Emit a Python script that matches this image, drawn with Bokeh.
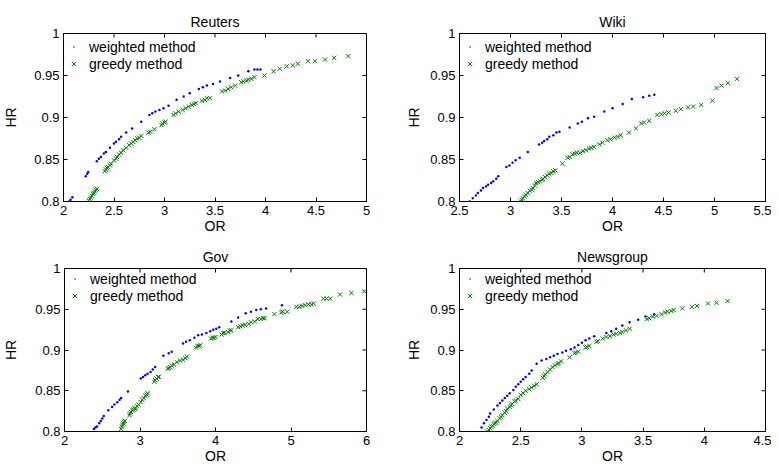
import math
from bokeh.plotting import figure
from bokeh.layouts import column, row
from bokeh.models import Range1d, FixedTicker, CustomJSTickFormatter
from bokeh.embed import file_html
from bokeh.resources import INLINE

FONT = "Liberation Sans"
BLUE = "#0000ff"
GREEN = "#008000"

# ---------------- data ----------------
hr_ticks = [0.8, 0.85, 0.9, 0.95, 1.0]

reuters_xticks = [2, 2.5, 3, 3.5, 4, 4.5, 5]
reuters_w_or = [2.055, 2.07, 2.088, 2.22, 2.235, 2.245, 2.33, 2.35, 2.37, 2.40, 2.42, 2.46, 2.50, 2.52, 2.55, 2.57,
                2.62, 2.68, 2.77, 2.85, 2.88, 2.91, 2.95, 2.99, 3.04, 3.12, 3.19, 3.25, 3.34, 3.38, 3.42, 3.48,
                3.55, 3.65, 3.73, 3.83, 3.89, 3.92, 3.95]
reuters_w_hr = [0.800, 0.802, 0.805, 0.830, 0.833, 0.835, 0.848, 0.851, 0.853, 0.857, 0.859, 0.864, 0.869, 0.871,
                0.874, 0.877, 0.882, 0.887, 0.895, 0.903, 0.905, 0.907, 0.909, 0.911, 0.914, 0.921, 0.925, 0.929,
                0.934, 0.936, 0.938, 0.940, 0.943, 0.947, 0.950, 0.955, 0.957, 0.957, 0.957]
reuters_g_or = [2.25, 2.26, 2.27, 2.28, 2.29, 2.30, 2.31, 2.32, 2.33,
                2.41, 2.42, 2.43, 2.44, 2.46, 2.47, 2.50, 2.52, 2.53, 2.55, 2.57, 2.59, 2.62, 2.65, 2.67, 2.69,
                2.71, 2.73, 2.75, 2.77, 2.84, 2.86, 2.90, 2.97, 2.98, 3.00, 3.01, 3.09, 3.11, 3.14, 3.18, 3.21,
                3.24, 3.27, 3.29, 3.31, 3.37, 3.40, 3.42, 3.45, 3.57, 3.60, 3.63, 3.66, 3.70, 3.76, 3.78, 3.81,
                3.83, 3.86, 3.89, 3.99, 4.08, 4.14, 4.21, 4.27, 4.32, 4.42, 4.49, 4.59, 4.68, 4.82]
reuters_g_hr = [0.801, 0.803, 0.805, 0.807, 0.809, 0.810, 0.812, 0.814, 0.815,
                0.836, 0.838, 0.840, 0.841, 0.843, 0.845, 0.849, 0.851, 0.853, 0.856, 0.858, 0.861, 0.864, 0.867,
                0.869, 0.871, 0.873, 0.875, 0.876, 0.878, 0.882, 0.883, 0.886, 0.891, 0.893, 0.894, 0.895, 0.903,
                0.905, 0.907, 0.909, 0.911, 0.913, 0.915, 0.916, 0.917, 0.920, 0.921, 0.923, 0.923, 0.931, 0.932,
                0.934, 0.936, 0.938, 0.942, 0.943, 0.944, 0.945, 0.946, 0.948, 0.950, 0.955, 0.958, 0.961, 0.962,
                0.964, 0.967, 0.967, 0.969, 0.971, 0.973]

wiki_xticks = [2.5, 3, 3.5, 4, 4.5, 5, 5.5]
wiki_w_or = [2.60, 2.63, 2.66, 2.68, 2.71, 2.73, 2.76, 2.78, 2.81, 2.83, 2.86, 2.88, 2.96, 2.99, 3.02, 3.05, 3.09,
             3.17, 3.28, 3.31, 3.33, 3.36, 3.38, 3.42, 3.45, 3.48, 3.58, 3.66, 3.70, 3.76, 3.82, 3.92, 4.00, 4.10,
             4.19, 4.30, 4.36, 4.41]
wiki_w_hr = [0.800, 0.804, 0.807, 0.810, 0.813, 0.816, 0.818, 0.820, 0.822, 0.824, 0.827, 0.830, 0.841, 0.843,
             0.846, 0.849, 0.852, 0.859, 0.868, 0.870, 0.872, 0.874, 0.877, 0.879, 0.882, 0.883, 0.888, 0.893,
             0.895, 0.899, 0.901, 0.907, 0.911, 0.916, 0.922, 0.924, 0.926, 0.927]
wiki_g_or = [3.10, 3.11, 3.12, 3.14, 3.15, 3.17, 3.19, 3.21, 3.22, 3.24, 3.25, 3.27, 3.29, 3.31, 3.32, 3.34, 3.36,
             3.38, 3.40, 3.42, 3.44, 3.51, 3.56, 3.58, 3.61, 3.63, 3.65, 3.68, 3.71, 3.74, 3.77, 3.79, 3.82, 3.87,
             3.90, 3.95, 3.98, 4.02, 4.05, 4.08, 4.16, 4.23, 4.28, 4.31, 4.36, 4.44, 4.48, 4.51, 4.55, 4.62, 4.67,
             4.74, 4.79, 4.87, 4.98, 5.02, 5.07, 5.13, 5.22]
wiki_g_hr = [0.800, 0.802, 0.804, 0.806, 0.808, 0.810, 0.813, 0.814, 0.816, 0.819, 0.822, 0.823, 0.824, 0.826,
             0.827, 0.829, 0.831, 0.833, 0.834, 0.836, 0.837, 0.845, 0.852, 0.853, 0.856, 0.857, 0.858, 0.858,
             0.860, 0.861, 0.863, 0.864, 0.865, 0.868, 0.870, 0.873, 0.874, 0.876, 0.877, 0.879, 0.882, 0.887,
             0.893, 0.894, 0.896, 0.903, 0.904, 0.905, 0.906, 0.908, 0.910, 0.912, 0.913, 0.915, 0.920, 0.935,
             0.938, 0.941, 0.946]

gov_xticks = [2, 3, 4, 5, 6]
gov_w_or = [2.39, 2.41, 2.43, 2.46, 2.48, 2.50, 2.52, 2.58, 2.63, 2.66, 2.70, 2.73, 2.75, 2.84, 3.01, 3.04, 3.07,
            3.10, 3.14, 3.17, 3.20, 3.31, 3.38, 3.42, 3.57, 3.61, 3.66, 3.72, 3.77, 3.82, 3.88, 3.93, 3.97, 4.01,
            4.05, 4.21, 4.30, 4.40, 4.47, 4.54, 4.60, 4.67, 4.88]
gov_w_hr = [0.803, 0.805, 0.806, 0.810, 0.813, 0.816, 0.819, 0.826, 0.830, 0.833, 0.836, 0.839, 0.841, 0.849,
            0.865, 0.867, 0.869, 0.871, 0.873, 0.876, 0.879, 0.893, 0.896, 0.898, 0.908, 0.910, 0.912, 0.915,
            0.918, 0.919, 0.921, 0.923, 0.925, 0.926, 0.928, 0.935, 0.940, 0.945, 0.947, 0.949, 0.950, 0.951, 0.955]
gov_g_or = [2.75, 2.76, 2.77, 2.78, 2.79, 2.80, 2.86, 2.87, 2.88, 2.90, 2.91, 2.93, 2.94, 2.96, 2.98, 3.01, 3.03,
            3.05, 3.07, 3.09, 3.10, 3.19, 3.20, 3.22, 3.24, 3.25, 3.37, 3.38, 3.40, 3.42, 3.45, 3.49, 3.53, 3.57,
            3.60, 3.62, 3.74, 3.76, 3.78, 3.80, 3.94, 3.96, 3.98, 4.00, 4.08, 4.10, 4.12, 4.17, 4.19, 4.21, 4.30,
            4.33, 4.36, 4.39, 4.44, 4.47, 4.52, 4.56, 4.60, 4.63, 4.65, 4.78, 4.87, 4.89, 4.95, 5.07, 5.11, 5.15,
            5.19, 5.23, 5.27, 5.30, 5.43, 5.47, 5.52, 5.65, 5.80, 5.97]
gov_g_hr = [0.803, 0.806, 0.808, 0.810, 0.812, 0.813, 0.820, 0.822, 0.824, 0.826, 0.827, 0.828, 0.829, 0.831,
            0.833, 0.836, 0.839, 0.841, 0.844, 0.845, 0.847, 0.861, 0.863, 0.865, 0.867, 0.867, 0.877, 0.878,
            0.879, 0.881, 0.882, 0.885, 0.887, 0.888, 0.890, 0.892, 0.903, 0.905, 0.905, 0.906, 0.914, 0.915,
            0.915, 0.916, 0.919, 0.921, 0.921, 0.922, 0.924, 0.924, 0.928, 0.929, 0.930, 0.931, 0.932, 0.934,
            0.935, 0.938, 0.938, 0.939, 0.939, 0.944, 0.946, 0.947, 0.947, 0.953, 0.953, 0.954, 0.955, 0.956,
            0.956, 0.957, 0.963, 0.963, 0.963, 0.968, 0.970, 0.972]

news_xticks = [2, 2.5, 3, 3.5, 4, 4.5]
news_w_or = [2.18, 2.20, 2.22, 2.24, 2.25, 2.28, 2.31, 2.33, 2.35, 2.37, 2.39, 2.41, 2.44, 2.46, 2.48, 2.50, 2.52,
             2.54, 2.57, 2.59, 2.63, 2.67, 2.71, 2.74, 2.77, 2.80, 2.84, 2.87, 2.91, 2.94, 2.97, 3.00, 3.03, 3.06,
             3.10, 3.20, 3.24, 3.28, 3.33, 3.39, 3.46, 3.52, 3.59]
news_w_hr = [0.805, 0.810, 0.814, 0.818, 0.822, 0.827, 0.832, 0.835, 0.838, 0.841, 0.844, 0.847, 0.851, 0.855,
             0.858, 0.861, 0.864, 0.867, 0.871, 0.875, 0.883, 0.887, 0.889, 0.891, 0.893, 0.895, 0.897, 0.899,
             0.901, 0.903, 0.906, 0.909, 0.912, 0.914, 0.917, 0.921, 0.923, 0.926, 0.930, 0.934, 0.937, 0.941, 0.944]
news_g_or = [2.23, 2.24, 2.25, 2.26, 2.27, 2.28, 2.29, 2.30, 2.31, 2.33, 2.34, 2.35, 2.37, 2.38, 2.39, 2.41, 2.42,
             2.43, 2.45, 2.46, 2.48, 2.50, 2.52, 2.54, 2.57, 2.59, 2.61, 2.63, 2.68, 2.69, 2.70, 2.72, 2.74, 2.76,
             2.78, 2.80, 2.81, 2.83, 2.90, 2.94, 2.95, 2.97, 3.03, 3.04, 3.06, 3.12, 3.13, 3.17, 3.20, 3.23, 3.26,
             3.28, 3.31, 3.33, 3.36, 3.39, 3.53, 3.55, 3.58, 3.61, 3.65, 3.68, 3.70, 3.73, 3.75, 3.82, 3.90, 3.94,
             4.03, 4.10, 4.19]
news_g_hr = [0.800, 0.802, 0.804, 0.806, 0.807, 0.809, 0.810, 0.811, 0.813, 0.816, 0.818, 0.820, 0.823, 0.825,
             0.828, 0.830, 0.832, 0.834, 0.837, 0.838, 0.840, 0.845, 0.847, 0.850, 0.852, 0.854, 0.856, 0.858,
             0.866, 0.868, 0.870, 0.873, 0.876, 0.879, 0.881, 0.883, 0.884, 0.886, 0.891, 0.896, 0.897, 0.898,
             0.903, 0.904, 0.905, 0.910, 0.911, 0.914, 0.916, 0.917, 0.919, 0.920, 0.921, 0.922, 0.924, 0.926,
             0.938, 0.939, 0.941, 0.942, 0.944, 0.946, 0.947, 0.948, 0.949, 0.951, 0.953, 0.954, 0.957, 0.958,
             0.960]

FMT = "return String(Math.round(tick*1000)/1000);"


def style_axis(ax, ticks):
    ax.ticker = FixedTicker(ticks=ticks)
    ax.formatter = CustomJSTickFormatter(code=FMT)
    ax.major_tick_in = 4
    ax.major_tick_out = 0
    ax.minor_tick_line_color = None
    ax.axis_line_color = "black"
    ax.major_tick_line_color = "black"
    ax.major_label_text_font = FONT
    ax.major_label_text_color = "black"
    ax.major_label_text_font_size = "13px"
    ax.major_label_standoff = 4
    ax.axis_label_text_font = FONT
    ax.axis_label_text_font_style = "normal"
    ax.axis_label_text_font_size = "14px"
    ax.axis_label_text_color = "black"


def make(title, x_lo, x_hi, xticks, w_or, w_hr, g_or, g_hr, width, height, bl, br, bt, bb, ystand, frame_h):
    p = figure(width=width, height=height, x_range=Range1d(x_lo, x_hi), y_range=Range1d(0.8, 1.0),
               output_backend="svg", toolbar_location=None,
               min_border_left=bl, min_border_right=br, min_border_top=bt, min_border_bottom=bb)
    p.grid.visible = False
    p.outline_line_color = "black"
    p.outline_line_alpha = 1
    p.background_fill_color = "white"
    p.border_fill_color = "white"

    p.title.text = title
    p.title.align = "center"
    p.title.text_font = FONT
    p.title.text_font_style = "normal"
    p.title.text_font_size = "14px"
    p.title.text_color = "black"
    p.title.standoff = 8

    style_axis(p.xaxis[0], xticks)
    style_axis(p.yaxis[0], hr_ticks)
    p.xaxis[0].axis_label = "OR"
    p.xaxis[0].axis_label_standoff = 0
    p.yaxis[0].axis_label = "HR"
    p.yaxis[0].axis_label_standoff = ystand

    # inward ticks on the top and right edges of the box (MATLAB "box on")
    p.ray(x=xticks, y=[1.0] * len(xticks), length=4, angle=-math.pi / 2, length_units="screen",
          line_color="black", line_width=1)
    p.ray(x=[x_hi] * len(hr_ticks), y=hr_ticks, length=4, angle=math.pi, length_units="screen",
          line_color="black", line_width=1)

    p.scatter(w_or, w_hr, marker="dot", size=10, line_color=BLUE, fill_color=BLUE,
              legend_label="weighted method")
    p.scatter(g_or, g_hr, marker="x", size=6, line_color=GREEN, line_width=1,
              legend_label="greedy method")

    lg = p.legend[0]
    lg.margin = 0
    lg.padding = 0
    lg.spacing = 0
    lg.glyph_width = 15
    lg.glyph_height = 17
    lg.label_height = 17
    lg.label_standoff = 8
    lg.location = (3, frame_h - 5 - 34)
    lg.border_line_color = None
    lg.background_fill_alpha = 0
    lg.label_text_font = FONT
    lg.label_text_font_size = "14px"
    lg.label_text_color = "black"
    return p


p1 = make("Reuters", 2, 5, reuters_xticks, reuters_w_or, reuters_w_hr, reuters_g_or, reuters_g_hr,
          388, 237, 60, 22, 33, 36, 12, 168)
p2 = make("Wiki", 2.5, 5.5, wiki_xticks, wiki_w_or, wiki_w_hr, wiki_g_or, wiki_g_hr,
          383, 237, 71, 6, 33, 36, 5, 168)
p3 = make("Gov", 2, 6, gov_xticks, gov_w_or, gov_w_hr, gov_g_or, gov_g_hr,
          388, 229, 60, 22, 31, 32, 13, 166)
p4 = make("Newsgroup", 2, 4.5, news_xticks, news_w_or, news_w_hr, news_g_or, news_g_hr,
          383, 229, 71, 6, 31, 32, 5, 166)

layout = column(row(p1, p2), row(p3, p4))
open("out.html", "w").write(file_html(layout, INLINE))
